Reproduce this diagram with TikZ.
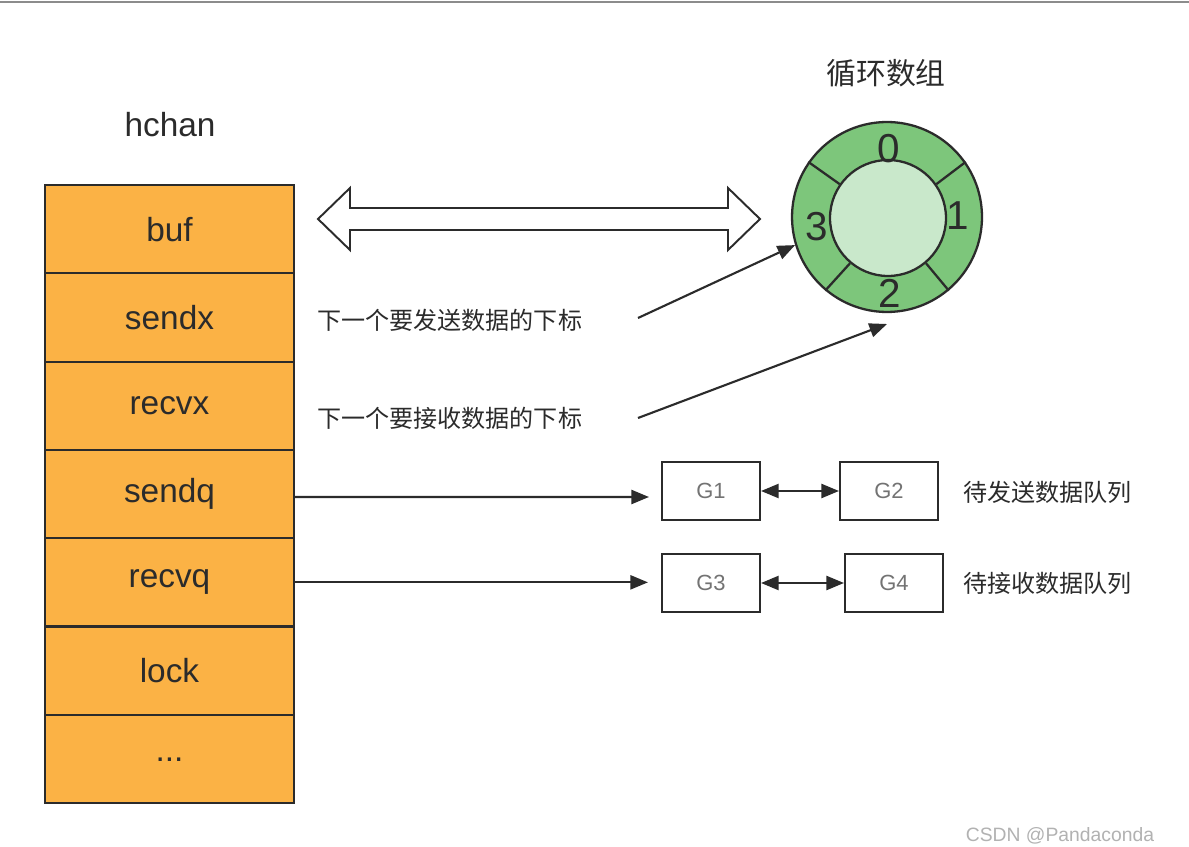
\documentclass[tikz,border=0pt]{standalone}
\usepackage{fontspec}
\setmainfont{Liberation Sans}
\newfontfamily\cjk{Noto Sans CJK SC}
\usetikzlibrary{arrows.meta,calc}
\definecolor{orangefill}{HTML}{FBB245}
\definecolor{ringgreen}{HTML}{7DC67B}
\definecolor{hubgreen}{HTML}{C9E8CB}
\definecolor{ink}{HTML}{2B2B2B}
\tikzset{
  rowbox/.style={draw=ink, line width=1.2pt, fill=orangefill, minimum width=4.98cm, minimum height=1.766cm, inner sep=0pt, font=\fontsize{19pt}{22pt}\selectfont, text=ink},
  gbox/.style={draw=ink, line width=1.2pt, fill=white, minimum width=1.96cm, minimum height=1.16cm, inner sep=0pt, font=\fontsize{12.5pt}{15pt}\selectfont, text=black!55},
  arr/.style={draw=ink, line width=1.2pt, -{Triangle[length=10pt,width=8pt]}},
  arrtwo/.style={draw=ink, line width=1.2pt, {Triangle[length=10pt,width=8pt]}-{Triangle[length=10pt,width=8pt]}},
  cjklabel/.style={font=\cjk\fontsize{13.7pt}{16pt}\selectfont, text=ink, anchor=west, inner sep=0pt},
  numlabel/.style={font=\fontsize{23pt}{26pt}\selectfont, text=ink, inner sep=0pt}
}
\begin{document}
\begin{tikzpicture}[x=0.02cm,y=-0.02cm]
\useasboundingbox (0,0) rectangle (1189,847);
\fill[white] (0,0) rectangle (1189,847);
\draw[black!45, line width=1.2pt] (0,2) -- (1189,2);

% hchan struct
\node[font=\fontsize{19pt}{22pt}\selectfont, text=ink] (title) at (170,125) {hchan};
\node[rowbox] (buf)   at (169.5,229.15) {buf};
\node[rowbox] (sendx) at (169.5,317.45) {sendx};
\node[rowbox] (recvx) at (169.5,405.75) {recvx};
\node[rowbox] (sendq) at (169.5,494.05) {sendq};
\node[rowbox] (recvq) at (169.5,582.35) {recvq};
\node[rowbox] (lock)  at (169.5,670.65) {lock};
\node[rowbox] (more)  at (169.5,758.95) {\raisebox{-0.06cm}[0pt][0pt]{...}};

% big double arrow
\draw[ink, line width=1.1pt, line join=miter, fill=white]
  (318,219) -- (350,188) -- (350,208) -- (728,208) -- (728,188) -- (760,219)
  -- (728,250) -- (728,230) -- (350,230) -- (350,250) -- cycle;

% ring buffer
\node[font=\cjk\fontsize{17pt}{20pt}\selectfont, text=ink] (ringtitle) at (886,73) {循环数组};
\node[circle, draw=ink, line width=1.3pt, fill=ringgreen, minimum size=3.8cm, inner sep=0pt] (ring) at (887,217) {};
\node[circle, draw=ink, line width=1.3pt, fill=hubgreen, minimum size=2.32cm, inner sep=0pt] (hub) at (888,218) {};
\foreach \a in {145,35,-50,-130} {
  \draw[ink, line width=1.3pt] (hub.\a) -- (ring.\a);
}
\node[numlabel] (n0) at (889,149) {0};
\node[numlabel] (n1) at (958,216) {1};
\node[numlabel] (n2) at (890,293) {2};
\node[numlabel] (n3) at (817,227) {3};

% index labels
\node[cjklabel] (lsend) at (317,320) {下一个要发送数据的下标};
\node[cjklabel] (lrecv) at (317,418) {下一个要接收数据的下标};
\coordinate (s1) at (638,318);
\coordinate (s2) at (638,418);
\coordinate (t2) at (887,324);
\draw[arr] (s1) -- (ring.197);
\draw[arr] (s2) -- (t2);

% queues
\node[gbox] (G1) at (711,491) {G1};
\node[gbox] (G2) at (889,491) {G2};
\node[gbox] (G3) at (711,583) {G3};
\node[gbox] (G4) at (894,583) {G4};
\draw[arr, shorten >=0.24cm] ([yshift=-0.06cm]sendq.east) -- ([yshift=-0.12cm]G1.west);
\draw[arr, shorten >=0.26cm] (recvq.east) -- (recvq.east -| G3.west);
\draw[arrtwo] (G1) -- (G2);
\draw[arrtwo] (G3) -- (G4);
\node[cjklabel] (qsend) at (963,492) {待发送数据队列};
\node[cjklabel] (qrecv) at (963,583) {待接收数据队列};

% watermark
\node[font=\fontsize{11pt}{13pt}\selectfont, text=black!30] (wm) at (1060,836) {CSDN @Pandaconda};
\end{tikzpicture}
\end{document}
